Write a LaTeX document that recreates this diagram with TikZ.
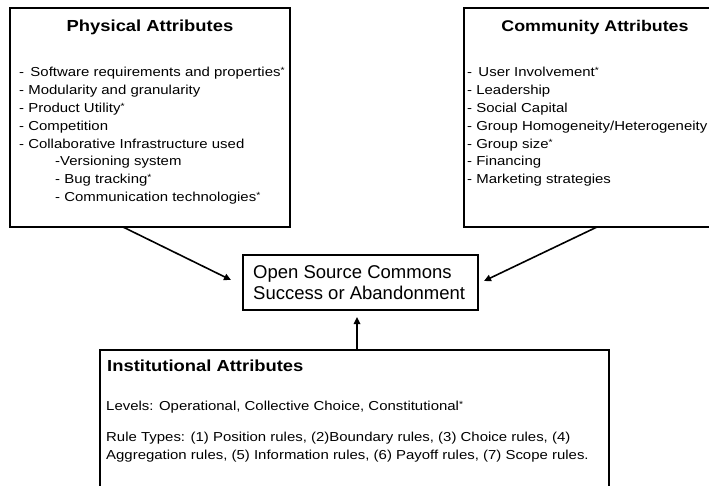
\documentclass[tikz,border=0pt]{standalone}
\usepackage{fontspec}
\setmainfont{Liberation Sans}[FakeStretch=1.15]
\newfontfamily\plainsans{Liberation Sans}
\usetikzlibrary{arrows.meta}
\newcommand\mystar{\raisebox{3pt}{\fontsize{9}{9}\selectfont *}}
\tikzset{
  box/.style={draw=black, line width=1.8pt, fill=white, inner sep=0pt},
  title/.style={inner sep=0pt, font=\fontsize{16}{19}\selectfont\bfseries},
  items/.style={inner sep=0pt, anchor=north west, align=left, font=\fontsize{13}{17.85}\selectfont},
  body/.style={inner sep=0pt, anchor=west, font=\fontsize{13}{18}\selectfont},
  link/.style={line width=1.6pt, -{Triangle[length=7pt,width=6.5pt]}}
}
\begin{document}
\begin{tikzpicture}[x=1pt,y=-1pt]
\useasboundingbox (0,0) rectangle (709,486);
\clip (0,0) rectangle (709,486);
\fill[white] (0,0) rectangle (709,486);

% boxes
\node[box, minimum width=280pt, minimum height=219pt] (phys) at (150,117.5) {};
\node[box, minimum width=270pt, minimum height=219pt] (comm) at (599,117.5) {};
\node[box, minimum width=235pt, minimum height=55pt] (out) at (360.5,282.5) {};
\node[box, minimum width=509pt, minimum height=160pt] (inst) at (354.5,430) {};

% physical
\node[title] (ptitle) at (150,27.5) {Physical Attributes};
\node[items] (pitems) at (19,67) {%
- \,Software requirements and properties\mystar\\
- Modularity and granularity\\
- Product Utility\mystar\\
- Competition\\
- Collaborative Infrastructure used\\
\hspace*{36pt}-Versioning system\\
\hspace*{36pt}- Bug tracking\mystar\\
\hspace*{36pt}- Communication technologies\mystar};

% community
\node[title, font=\fontsize{15.5}{19}\selectfont\bfseries] (ctitle) at (595,27.5) {Community Attributes};
\node[items] (citems) at (467,67) {%
- \,User Involvement\mystar\\
- Leadership\\
- Social Capital\\
- Group Homogeneity/Heterogeneity\\
- Group size\mystar\\
- Financing\\
- Marketing strategies};

% outcome
\node[inner sep=0pt, anchor=north west, align=left, font=\plainsans\fontsize{18.5}{21.5}\selectfont] (otext) at (253,265) {Open Source Commons\\Success or Abandonment};

% institutional
\node[title, anchor=west] (ititle) at (107,366) {Institutional Attributes};
\node[body] (levels) at (106,407.5) {Levels: Operational, Collective Choice, Constitutional\mystar};
\node[items] (rules) at (106,432) {Rule Types: (1) Position rules, (2)Boundary rules, (3) Choice rules, (4)\\
Aggregation rules, (5) Information rules, (6) Payoff rules, (7) Scope rules.};

% connectors
\coordinate (a1) at (123,227);
\coordinate (a1e) at (231,280);
\coordinate (a2) at (597,227);
\coordinate (a2e) at (484,281);
\coordinate (a3) at (357,350);
\coordinate (a3e) at (357,317);
\draw[link] (a1) -- (a1e);
\draw[link] (a2) -- (a2e);
\draw[link] (a3) -- (a3e);
\end{tikzpicture}
\end{document}
